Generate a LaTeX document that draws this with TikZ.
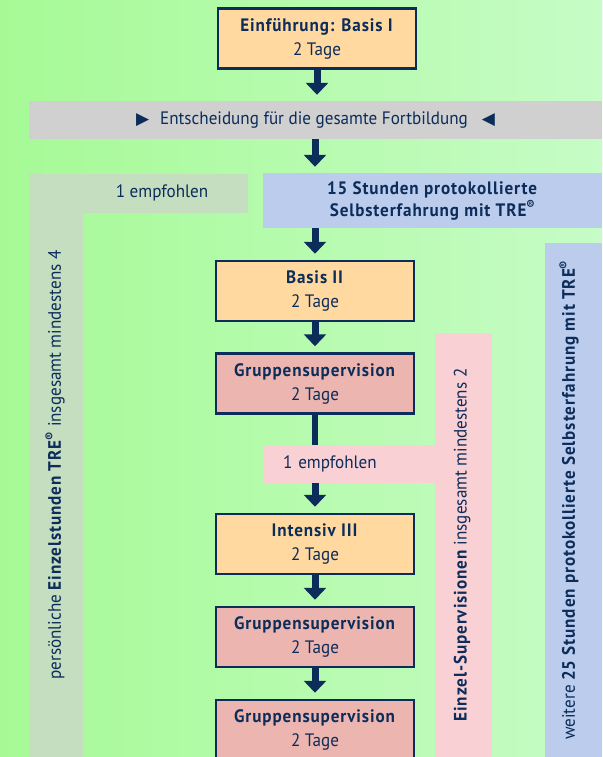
\documentclass[tikz,border=0pt]{standalone}
\usepackage{fontspec}
\setmainfont{PT Sans}[FakeStretch=0.95, BoldFeatures={LetterSpace=5}]
\newfontfamily\symfont{DejaVu Sans}
\usetikzlibrary{arrows.meta}
\definecolor{navy}{RGB}{12,44,90}
\definecolor{kurs}{RGB}{255,217,160}
\definecolor{superv}{RGB}{236,181,175}
\definecolor{entschgrau}{RGB}{208,208,208}
\definecolor{einzelgruen}{RGB}{198,222,192}
\definecolor{selbstblau}{RGB}{188,204,236}
\definecolor{einzelrosa}{RGB}{249,208,212}
\definecolor{gruenL}{RGB}{166,250,150}
\definecolor{gruenR}{RGB}{198,252,198}

\begin{document}
\begin{tikzpicture}[x=1pt,y=-1pt,
box/.style = {draw=navy, line width=2.5pt, minimum width=198pt, minimum height=60pt,
  align=center, text=navy, inner sep=0pt, font=\fontsize{18}{24}\selectfont},
kursbox/.style = {box, fill=kurs},
svbox/.style = {box, fill=superv},
txt/.style = {text=navy, inner sep=0pt, align=center, font=\fontsize{18}{22}\selectfont},
vtxt/.style = {txt, rotate=90},
pfeil/.style = {navy, line width=7pt, -{Triangle[width=22pt,length=12pt]}, shorten >=6pt},
linie/.style = {navy, line width=6pt}]
\shade[left color=gruenL, right color=gruenR] (0,0) rectangle (602,757);
\useasboundingbox (0,0) rectangle (602,757);
% seitliche Balken
\fill[einzelgruen] (29,174) -- (248,174) -- (248,213) -- (83,213) -- (83,757) -- (29,757) -- cycle;
\fill[selbstblau] (545,243) rectangle (602,757);
\fill[einzelrosa] (435,333) rectangle (492,757);
\node[txt] (emp1) at (162,193) {1 empfohlen};
\node[vtxt] (einzelstd) at (55,465) {persönliche \textbf{Einzelstunden TRE\textsuperscript{®}} insgesamt mindestens 4};
\node[vtxt] (einzelsv) at (462,545) {\textbf{Einzel-Supervisionen} insgesamt mindestens 2};
\node[vtxt] (weitere) at (569,500) {weitere \textbf{25 Stunden protokollierte Selbsterfahrung mit TRE\textsuperscript{®}}};
% Ablauf
    \node[kursbox] (einf) at (317,38.5) {\textbf{Einführung: Basis I}\\2 Tage};
    \node[txt, fill=entschgrau, minimum width=573pt, minimum height=38pt] (entsch) at (315.5,120)
      {{\symfont\fontsize{17}{17}\selectfont ▶}\hspace{11pt}Entscheidung für die gesamte Fortbildung\hspace{14pt}{\symfont\fontsize{17}{17}\selectfont ◀}};
    \node[txt, fill=selbstblau, minimum width=339pt, minimum height=55pt] (selbst) at (432.5,200.5)
      {\textbf{15 Stunden protokollierte}\\\textbf{Selbsterfahrung mit TRE\textsuperscript{®}}};
    \node[kursbox] (basis2) at (315,291) {\textbf{Basis II}\\2 Tage};
    \node[svbox] (gs1) at (315,383.5) {\textbf{Gruppensupervision}\\2 Tage};
    \node[txt, fill=einzelrosa, minimum width=172pt, minimum height=38pt, text width=132pt, inner xsep=20pt, align=left] (emp2) at (349,464) {1 empfohlen};
    \node[kursbox] (int) at (315,544) {\textbf{Intensiv III}\\2 Tage};
    \node[svbox] (gs2) at (315,637) {\textbf{Gruppensupervision}\\2 Tage};
    \node[svbox] (gs3) at (315,730) {\textbf{Gruppensupervision}\\2 Tage};
\draw[pfeil] (einf.south) -- (einf.south |- entsch.north);
\draw[pfeil] (basis2.north |- entsch.south) -- (basis2.north |- selbst.north);
\draw[pfeil] (basis2.north |- selbst.south) -- (basis2.north);
\draw[pfeil] (basis2.south) -- (gs1.north);
\draw[linie] (gs1.south) -- (gs1.south |- emp2.north);
\draw[pfeil] (int.north |- emp2.south) -- (int.north);
\draw[pfeil] (int.south) -- (gs2.north);
\draw[pfeil] (gs2.south) -- (gs3.north);
\end{tikzpicture}
\end{document}
